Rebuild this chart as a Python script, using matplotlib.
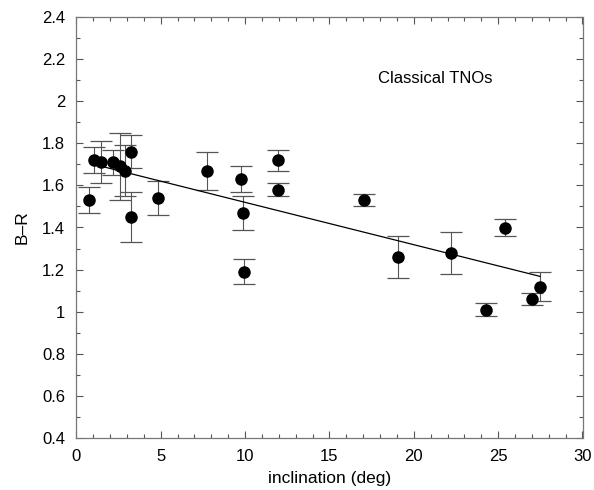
import numpy as np
import matplotlib
matplotlib.use("Agg")
import matplotlib.pyplot as plt
from matplotlib.ticker import MultipleLocator

plt.rcParams['font.family'] = ['Liberation Sans', 'DejaVu Sans']

# inclination (deg), B-R colour and its error
incl = [0.77, 1.05, 1.46, 2.16, 2.59, 2.89, 3.24, 3.24, 4.86, 7.77,
        9.76, 9.86, 9.96, 11.96, 11.96, 17.07, 19.09, 22.19, 24.29, 25.39,
        27.0, 27.5]
b_r = [1.53, 1.72, 1.71, 1.71, 1.69, 1.67, 1.76, 1.45, 1.54, 1.67,
       1.63, 1.47, 1.19, 1.72, 1.58, 1.53, 1.26, 1.28, 1.01, 1.40,
       1.06, 1.12]
b_r_err = [0.06, 0.06, 0.10, 0.06, 0.16, 0.12, 0.08, 0.12, 0.08, 0.09,
           0.06, 0.08, 0.06, 0.05, 0.03, 0.03, 0.10, 0.10, 0.03, 0.04,
           0.03, 0.07]

# linear fit drawn in the original
fit_x = [1.01, 27.49]
fit_y = [1.70, 1.168]

fig = plt.figure(figsize=(5.94, 4.90), dpi=100)
ax = fig.add_axes([76.3 / 594, 1 - 438.3 / 490, (582.5 - 76.3) / 594, (438.3 - 16.7) / 490])

ax.errorbar(incl, b_r, yerr=b_r_err, fmt='none', ecolor='#555555',
            elinewidth=0.8, capsize=8, capthick=0.9)
ax.plot(fit_x, fit_y, color='black', lw=0.9)
ax.plot(incl, b_r, 'o', color='black', markersize=8, zorder=3)

ax.text(17.88, 2.108, 'Classical TNOs', fontsize=12, va='center', ha='left')

ax.set_xlim(0, 30)
ax.set_ylim(0.4, 2.4)
ax.xaxis.set_major_locator(MultipleLocator(5))
ax.xaxis.set_minor_locator(MultipleLocator(1))
ax.yaxis.set_major_locator(MultipleLocator(0.2))
ax.yaxis.set_minor_locator(MultipleLocator(0.1))
ax.yaxis.set_major_formatter(plt.FuncFormatter(
    lambda v, p: '%d' % round(v) if abs(v - round(v)) < 1e-9 else '%.1f' % v))

ax.tick_params(which='both', direction='in', top=True, right=True,
               color='#555555', labelsize=12, pad=8)
ax.tick_params(which='major', length=5, width=0.8)
ax.tick_params(which='minor', length=3, width=0.8)
for s in ax.spines.values():
    s.set_color('#777777')
    s.set_linewidth(0.9)

ax.set_xlabel('inclination (deg)', fontsize=12.5, labelpad=5)
ax.set_ylabel('B\u2013R', fontsize=12.5, labelpad=9)

fig.savefig('out.png', dpi=100)
